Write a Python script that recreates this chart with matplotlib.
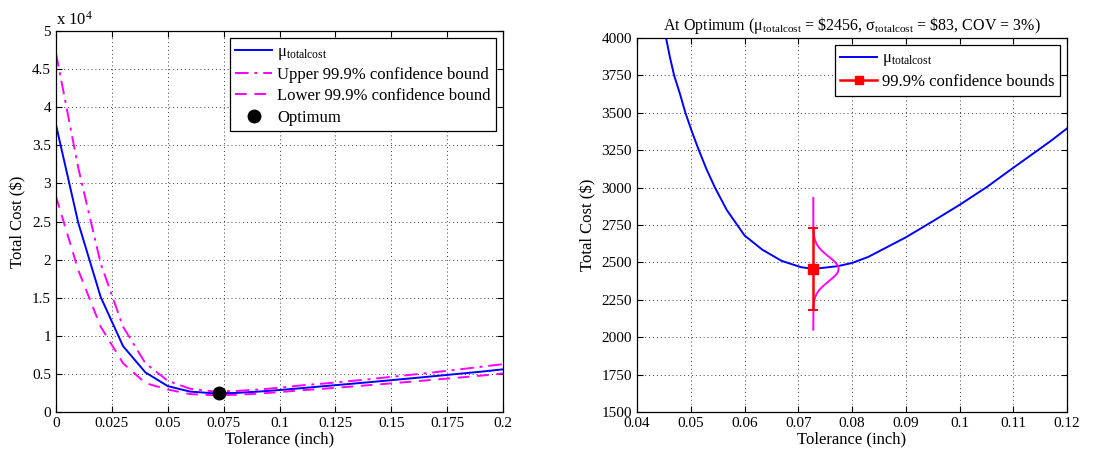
import numpy as np
import matplotlib
matplotlib.use("Agg")
from matplotlib import pyplot as plt
from matplotlib.lines import Line2D
from matplotlib.ticker import FuncFormatter, MultipleLocator

plt.rcParams['font.family'] = ['Liberation Serif', 'DejaVu Serif']
plt.rcParams['mathtext.fontset'] = 'custom'
plt.rcParams['mathtext.rm'] = 'Liberation Serif'
plt.rcParams['mathtext.it'] = 'Liberation Serif:italic'
plt.rcParams['font.size'] = 11

## DATA ##
# left panel: coarse sweep of tolerance
tol = [0.00, 0.01, 0.02, 0.03, 0.04, 0.05, 0.06, 0.07, 0.08, 0.09, 0.10,
       0.11, 0.12, 0.13, 0.14, 0.15, 0.16, 0.17, 0.18, 0.19, 0.20]
mu_cost = [37700, 24800, 15100, 8650, 5200, 3400, 2680, 2466, 2496, 2667, 2884,
           3132, 3395, 3650, 3910, 4180, 4450, 4730, 5010, 5290, 5600]
upper_cost = [47100, 32000, 19500, 11200, 6400, 4100, 3050, 2720, 2750, 2930, 3190,
              3500, 3740, 4020, 4300, 4620, 4920, 5240, 5580, 5930, 6280]
lower_cost = [28300, 18600, 11200, 6400, 3800, 2950, 2350, 2210, 2250, 2400, 2610,
              2860, 3060, 3290, 3520, 3760, 4010, 4260, 4510, 4770, 5060]

# right panel: fine sweep near the optimum
tol_fine = [0.0454, 0.0461, 0.0469, 0.0480, 0.0490, 0.0502, 0.0515, 0.0529, 0.0545,
            0.0567, 0.0600, 0.0633, 0.0669, 0.0705, 0.0728, 0.0774, 0.0800, 0.0830,
            0.0900, 0.0949, 0.1000, 0.1051, 0.1100, 0.1146, 0.1170, 0.1200]
mu_fine = [4000, 3875, 3750, 3625, 3500, 3375, 3250, 3125, 3000,
           2850, 2680, 2585, 2510, 2468, 2456, 2475, 2496, 2536,
           2667, 2772, 2884, 3004, 3132, 3250, 3312, 3395]

tol_opt = 0.0728
mu_opt = 2456
sigma_opt = 83
ci_bounds = [2185, 2727]
pdf_range = [2050, 2930]
pdf_peak_width = 0.0047

BLUE = '#0000ff'
MAGENTA = '#ff00ff'
RED = '#ff0000'

LEG_KW = dict(loc='upper right', fancybox=False, edgecolor='black', framealpha=1,
              borderaxespad=0.4, handlelength=2.2, handletextpad=0.3,
              labelspacing=0.32, borderpad=0.35, fontsize=12)


def style_axes(ax):
    ax.tick_params(direction='in', top=True, right=True, length=4, width=0.8)
    for s in ax.spines.values():
        s.set_linewidth(0.9)
    ax.grid(True, color='0.25', linestyle=(0, (1, 3)), linewidth=0.7)


fig = plt.figure(figsize=(11.04, 4.54), dpi=100)

## LEFT ##
ax1 = fig.add_axes([0.0507, 0.0925, 0.405, 0.839])
ax1.plot(tol, mu_cost, color=BLUE, lw=1.4, label=r'μ$_{\mathrm{totalcost}}$')
ax1.plot(tol, upper_cost, color=MAGENTA, lw=1.4, dashes=(7, 3, 1.5, 3),
         label='Upper 99.9% confidence bound')
ax1.plot(tol, lower_cost, color=MAGENTA, lw=1.4, dashes=(6, 4),
         label='Lower 99.9% confidence bound')
ax1.plot([tol_opt], [mu_opt], 'o', color='black', ms=9, label='Optimum')

ax1.set_xlim(0, 0.2)
ax1.set_ylim(0, 50000)
ax1.xaxis.set_major_locator(MultipleLocator(0.025))
ax1.yaxis.set_major_locator(MultipleLocator(5000))
ax1.xaxis.set_major_formatter(FuncFormatter(lambda v, p: '%g' % round(v, 4)))
ax1.yaxis.set_major_formatter(FuncFormatter(lambda v, p: '%g' % (v / 1e4)))
ax1.text(0.0, 1.006, r'x 10$^{4}$', transform=ax1.transAxes, ha='left', va='bottom',
         fontsize=12)
ax1.set_xlabel('Tolerance (inch)', labelpad=1, fontsize=12)
ax1.set_ylabel(r'Total Cost (\$)', labelpad=4, fontsize=12)
style_axes(ax1)
leg1 = ax1.legend(**LEG_KW)
leg1.get_frame().set_linewidth(0.9)

## RIGHT ##
ax2 = fig.add_axes([0.577, 0.0925, 0.3895, 0.824])
ax2.plot(tol_fine, mu_fine, color=BLUE, lw=1.4)

y_pdf = np.linspace(pdf_range[0], pdf_range[1], 300)
x_pdf = tol_opt + pdf_peak_width * np.exp(-0.5 * ((y_pdf - mu_opt) / sigma_opt) ** 2)
ax2.plot(x_pdf, y_pdf, color=MAGENTA, lw=1.4)

ax2.errorbar([tol_opt], [mu_opt],
             yerr=[[mu_opt - ci_bounds[0]], [ci_bounds[1] - mu_opt]],
             fmt='s', color=RED, ms=6.5, elinewidth=1.8, capsize=3.5, capthick=1.4)

ax2.set_xlim(0.04, 0.12)
ax2.set_ylim(1500, 4000)
ax2.xaxis.set_major_locator(MultipleLocator(0.01))
ax2.yaxis.set_major_locator(MultipleLocator(250))
ax2.xaxis.set_major_formatter(FuncFormatter(lambda v, p: '%g' % round(v, 4)))
ax2.set_xlabel('Tolerance (inch)', labelpad=1, fontsize=12)
ax2.set_ylabel(r'Total Cost (\$)', labelpad=4, fontsize=12)
ax2.set_title(r'At Optimum (μ$_{\mathrm{totalcost}}$ = \$2456, '
              r'σ$_{\mathrm{totalcost}}$ = \$83, COV = 3%)', pad=6, fontsize=11.5)
style_axes(ax2)
handles = [Line2D([], [], color=BLUE, lw=1.4),
           Line2D([], [], color=RED, lw=1.8, marker='s', ms=6)]
leg2 = ax2.legend(handles, [r'μ$_{\mathrm{totalcost}}$', '99.9% confidence bounds'],
                  **LEG_KW)
leg2.get_frame().set_linewidth(0.9)

fig.savefig('out.png', dpi=100)
